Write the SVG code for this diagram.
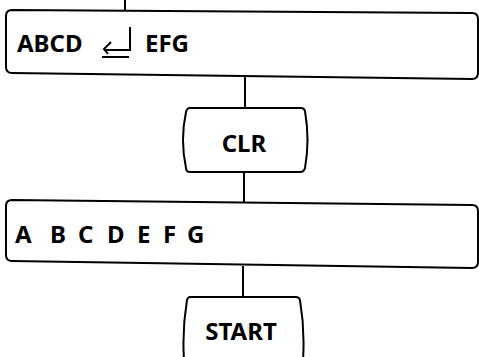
<svg xmlns="http://www.w3.org/2000/svg" width="479" height="357" viewBox="0 0 479 357">
<style>
.box{fill:#fff;stroke:#000;stroke-width:2;stroke-linejoin:round}
.lbl{font-family:"Noto Sans","Open Sans","DejaVu Sans",sans-serif;font-weight:bold;font-size:24px;fill:#000}
.ln{stroke:#000;stroke-width:2;fill:none}
</style>
<rect width="479" height="357" fill="#fff"/>
<g id="connectors">
<line class="ln" x1="125" y1="0" x2="125" y2="11"/>
<line class="ln" x1="245" y1="76" x2="245" y2="108"/>
<line class="ln" x1="244" y1="172" x2="244" y2="202"/>
<line class="ln" x1="243" y1="266" x2="243" y2="297"/>
</g>
<g id="node-abcd-efg">
<path class="box" d="M12,10 L472,13 Q478,13 478,19 L478,73 Q478,79 472,79 L12,73 Q6,73 6,67 L6,16 Q6,10 12,10 Z"/>
<text class="lbl" x="17" y="52">ABCD</text>
<path class="ln" d="M130,27 L130,50 L104,50 M111,42 L104,49 L108,54 M102,57 L129,57"/>
<text class="lbl" x="145" y="52">EFG</text>
</g>
<g id="node-clr">
<path class="box" d="M190,108 L301,108 Q304,108 305,111 Q310,140 305,168 Q304,172 300,172 L190,172 Q186,172 186,168 Q180,140 186,112 Q187,108 190,108 Z"/>
<text class="lbl" x="244" y="152" text-anchor="middle">CLR</text>
</g>
<g id="node-abcdefg">
<path class="box" d="M12,200 L472,205 Q478,205 478,211 L478,262 Q478,268 472,268 L12,261 Q6,261 6,255 L6,206 Q6,200 12,200 Z"/>
<text class="lbl" x="15 33 50 68 78 96 107 127 137 152 163 176 187" y="243">A B C D E F G</text>
</g>
<g id="node-start">
<path class="box" d="M190,297 L296,297 Q299,297 300,300 Q305,330 303,360 L184,360 Q182,330 187,300 Q188,297 190,297 Z"/>
<text class="lbl" x="241" y="340" text-anchor="middle">START</text>
</g>
</svg>
